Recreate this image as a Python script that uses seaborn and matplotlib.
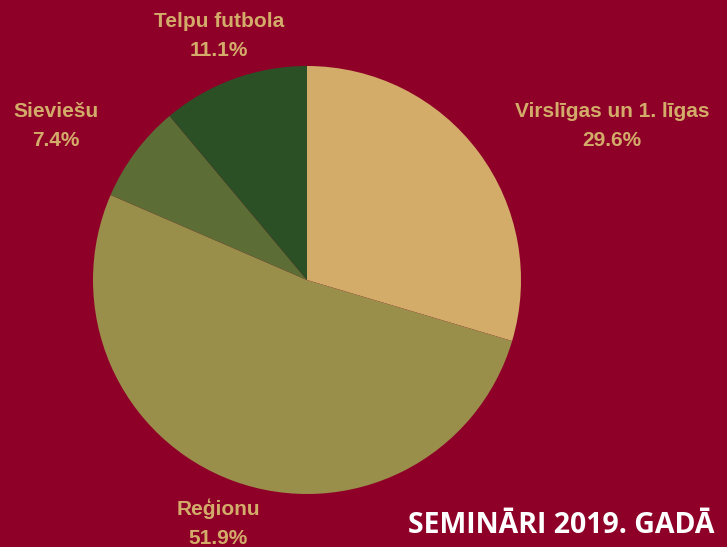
import matplotlib
matplotlib.use('Agg')
import matplotlib.pyplot as plt
import seaborn as sns

kategorijas = ['Virslīgas un 1. līgas', 'Reģionu', 'Sieviešu', 'Telpu futbola']
procenti = [29.6, 51.9, 7.4, 11.1]
krasas = ['#D3AC69', '#9A8E4B', '#5C6E36', '#2C5026']
# label anchor positions (pie radius units)
etiketes_xy = [(1.425, 0.72), (-0.416, -1.136), (-1.173, 0.72), (-0.41, 1.14)]

fons = '#8F0029'
teksts = '#D3AC69'

sns.set_theme(style='white')
plt.rcParams['font.family'] = ['Liberation Sans', 'DejaVu Sans']

fig = plt.figure(figsize=(7.27, 5.47), dpi=100)
fig.patch.set_facecolor(fons)
ax = fig.add_axes([93 / 727, 53 / 547, 428 / 727, 428 / 547])
ax.set_facecolor(fons)

ax.pie(procenti, colors=krasas, startangle=90, counterclock=False,
       radius=1, wedgeprops=dict(linewidth=0))
ax.set_xlim(-1, 1)
ax.set_ylim(-1, 1)
ax.set_aspect('equal')
ax.axis('off')

for nos, val, (x, y) in zip(kategorijas, procenti, etiketes_xy):
    ax.text(x, y, f'{nos}\n{val:.1f}%', ha='center', va='center',
            fontsize=15, fontweight='bold', color=teksts,
            linespacing=1.65, clip_on=False)

fig.text(0.983, 0.026, 'SEMINĀRI 2019. GADĀ', ha='right', va='baseline',
         fontsize=20.5, fontweight='bold', color='white',
         family=['Open Sans', 'DejaVu Sans'])

fig.savefig('out.png', dpi=100, facecolor=fons)
